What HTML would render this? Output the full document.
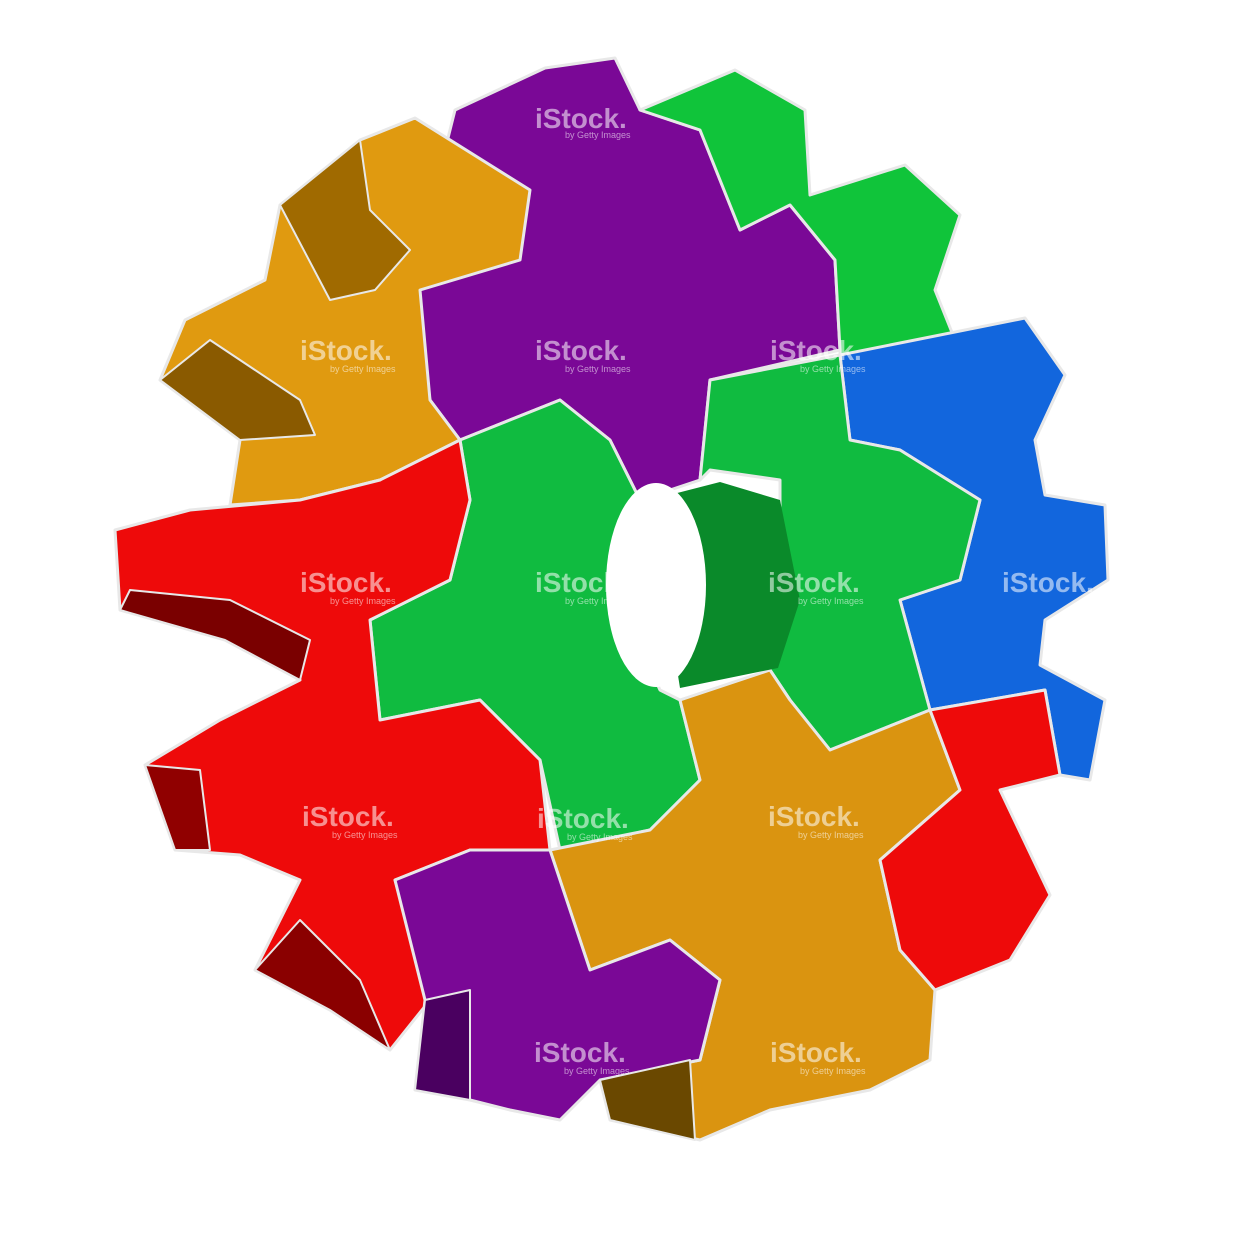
<!DOCTYPE html>
<html><head><meta charset="utf-8">
<style>
html,body{margin:0;padding:0;background:#fff;}
svg{display:block;}
.wm{font-family:"Liberation Sans",sans-serif;font-weight:bold;font-size:28px;fill:#fff;fill-opacity:0.55;}
.wm2{font-family:"Liberation Sans",sans-serif;font-size:9px;fill:#fff;fill-opacity:0.55;}
</style></head>
<body>
<svg width="1235" height="1235" viewBox="0 0 1235 1235">
<g stroke="#e8e8e8" stroke-width="3" stroke-linejoin="round">
<polygon fill="#7a0896" points="410,290 455,110 545,68 615,58 640,110 700,130 740,230 790,205 835,260 840,350 710,380 700,480 640,500 610,440 560,400 460,440 430,400"/>
<polygon fill="#e09a10" points="160,380 185,320 265,280 280,205 360,140 415,118 530,190 520,260 420,290 430,400 460,440 380,480 300,500 230,505 240,440"/>
<polygon fill="#10c43a" points="640,110 735,70 805,110 810,195 905,165 960,215 935,290 955,340 840,355 840,350 835,260 790,205 740,230 700,130"/>
<polygon fill="#1266dd" points="840,355 1025,318 1065,375 1035,440 1045,495 1105,505 1108,580 1045,620 1040,665 1105,700 1090,780 1060,775 1045,690 930,710 900,600 960,580 980,500 900,450 850,440"/>
<polygon fill="#10bb40" points="460,440 560,400 610,440 640,500 610,580 660,690 680,700 700,780 650,830 560,850 540,760 480,700 380,720 370,620 450,580 470,500"/>
<polygon fill="#10bb40" points="710,380 840,355 850,440 900,450 980,500 960,580 900,600 930,710 830,750 790,700 770,670 780,590 780,480 710,470 700,480"/>
<polygon fill="#ee0a0a" points="115,530 190,510 300,500 380,480 460,440 470,500 450,580 370,620 380,720 480,700 540,760 550,850 470,850 395,880 430,1000 390,1050 330,1010 255,970 300,880 240,855 175,850 145,765 220,720 300,680 225,640 120,610"/>
<polygon fill="#da9410" points="550,850 650,830 700,780 680,700 770,670 790,700 830,750 930,710 960,790 880,860 900,950 935,990 930,1060 870,1090 770,1110 700,1140 610,1120 600,1080 700,1060 720,980 670,940 590,970"/>
<polygon fill="#7a0896" points="395,880 470,850 550,850 590,970 670,940 720,980 700,1060 600,1080 560,1120 510,1110 470,1100 415,1090 425,1000"/>
<polygon fill="#ee0a0a" points="930,710 1045,690 1060,775 1000,790 1050,895 1010,960 935,990 900,950 880,860 960,790"/>
</g>
<g stroke="#e8e8e8" stroke-width="2" stroke-linejoin="round">
<polygon fill="#8a5a00" points="160,380 240,440 315,435 300,400 210,340"/>
<polygon fill="#a06a00" points="280,205 330,300 375,290 410,250 370,210 360,140"/>
<polygon fill="#7a0000" points="120,610 225,640 300,680 310,640 230,600 130,590"/>
<polygon fill="#900000" points="145,765 175,850 210,850 200,770"/>
<polygon fill="#8a0000" points="255,970 330,1010 390,1050 360,980 300,920"/>
<polygon fill="#4a0060" points="415,1090 470,1100 470,990 425,1000"/>
<polygon fill="#6a4800" points="600,1080 690,1060 695,1140 610,1120"/>
</g>
<polygon fill="#0a8a2a" points="650,500 720,482 780,500 800,600 778,668 680,688"/>
<ellipse cx="656" cy="585" rx="50" ry="102" fill="#ffffff"/>
<g>
<text class="wm" x="535" y="128">iStock.</text><text class="wm2" x="565" y="138">by Getty Images</text>
<text class="wm" x="300" y="360">iStock.</text><text class="wm2" x="330" y="372">by Getty Images</text>
<text class="wm" x="535" y="360">iStock.</text><text class="wm2" x="565" y="372">by Getty Images</text>
<text class="wm" x="770" y="360">iStock.</text><text class="wm2" x="800" y="372">by Getty Images</text>
<text class="wm" x="300" y="592">iStock.</text><text class="wm2" x="330" y="604">by Getty Images</text>
<text class="wm" x="535" y="592">iStock.</text><text class="wm2" x="565" y="604">by Getty Images</text>
<text class="wm" x="768" y="592">iStock.</text><text class="wm2" x="798" y="604">by Getty Images</text>
<text class="wm" x="1002" y="592">iStock.</text>
<text class="wm" x="302" y="826">iStock.</text><text class="wm2" x="332" y="838">by Getty Images</text>
<text class="wm" x="537" y="828">iStock.</text><text class="wm2" x="567" y="840">by Getty Images</text>
<text class="wm" x="768" y="826">iStock.</text><text class="wm2" x="798" y="838">by Getty Images</text>
<text class="wm" x="534" y="1062">iStock.</text><text class="wm2" x="564" y="1074">by Getty Images</text>
<text class="wm" x="770" y="1062">iStock.</text><text class="wm2" x="800" y="1074">by Getty Images</text>
</g>
</svg>
</body></html>
